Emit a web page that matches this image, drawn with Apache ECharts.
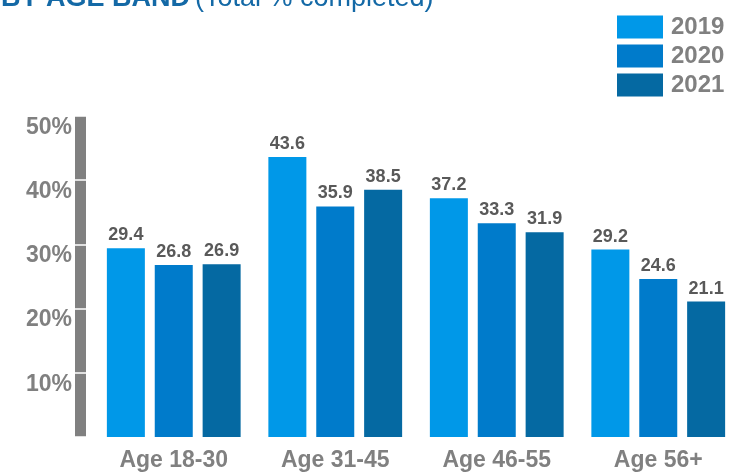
<!DOCTYPE html>
<html>
<head>
<meta charset="utf-8">
<script src="https://cdn.jsdelivr.net/npm/echarts@6/dist/echarts.min.js"></script>
<style>
  html, body { margin: 0; padding: 0; background: #fff; }
  #chart { width: 748px; height: 472px; }
</style>
</head>
<body>
<div id="chart"></div>
<script>
// chart data
const ageBands = ['Age 18-30', 'Age 31-45', 'Age 46-55', 'Age 56+']
const years = ['2019', '2020', '2021']
const values2019 = [29.4, 43.6, 37.2, 29.2]
const values2020 = [26.8, 35.9, 33.3, 24.6]
const values2021 = [26.9, 38.5, 31.9, 21.1]
const yTicks = [0, 10, 20, 30, 40, 50]

const colors = ['#0098e8', '#007bcb', '#0569a2']
const font = '"Liberation Sans", Arial, sans-serif'

const chart = echarts.init(document.getElementById('chart'))

function makeSeries(name, data, color) {
  return {
    name: name,
    type: 'bar',
    data: data,
    barWidth: 38,
    barGap: '26%',
    itemStyle: { color: color },
    label: {
      show: true,
      position: 'top',
      distance: 4,
      color: '#595959',
      fontFamily: font,
      fontWeight: 'bold',
      fontSize: 18,
      formatter: (p) => p.value.toFixed(1)
    }
  }
}

const yBase = {
  type: 'value',
  min: yTicks[0],
  max: yTicks[yTicks.length - 1],
  interval: 10,
  position: 'left',
  offset: 13,
  splitLine: { show: false }
}

chart.setOption({
  animation: false,
  title: {
    text: '{b|BY AGE BAND} {n|(Total % completed)}',
    left: -4,
    top: -20,
    textStyle: {
      rich: {
        b: { fontFamily: font, fontWeight: 'bold', fontSize: 27, color: '#1469a6' },
        n: { fontFamily: font, fontWeight: 'normal', fontSize: 27, color: '#1469a6' }
      }
    }
  },
  legend: {
    data: years,
    orient: 'vertical',
    left: 612,
    top: 10,
    itemWidth: 46,
    itemHeight: 23,
    itemGap: 5,
    icon: 'rect',
    textStyle: {
      fontFamily: font,
      fontWeight: 'bold',
      fontSize: 24,
      color: '#808080',
      padding: [0, 0, 0, 3]
    }
  },
  grid: {
    left: 93,
    right: 9,
    top: 116,
    bottom: 33
  },
  xAxis: {
    type: 'category',
    data: ageBands,
    axisLine: { show: false },
    axisTick: { show: false },
    axisLabel: {
      margin: 12,
      fontFamily: font,
      fontWeight: 'bold',
      fontSize: 23,
      color: '#808080'
    }
  },
  yAxis: [
    Object.assign({}, yBase, {
      axisLine: { show: true, lineStyle: { color: '#808080', width: 11, cap: 'butt' } },
      axisTick: { show: true, length: 6, lineStyle: { color: '#fff', width: 1.5 } },
      axisLabel: {
        margin: 8,
        verticalAlign: 'top',
        fontFamily: font,
        fontWeight: 'bold',
        fontSize: 23,
        color: '#808080',
        formatter: (v) => (v === 0 ? '' : v + '%')
      }
    }),
    Object.assign({}, yBase, {
      axisLine: { show: false },
      axisTick: { show: true, inside: true, length: 6, lineStyle: { color: '#fff', width: 1.5 } },
      axisLabel: { show: false }
    })
  ],
  series: [
    makeSeries(years[0], values2019, colors[0]),
    makeSeries(years[1], values2020, colors[1]),
    makeSeries(years[2], values2021, colors[2])
  ]
})
</script>
</body>
</html>
